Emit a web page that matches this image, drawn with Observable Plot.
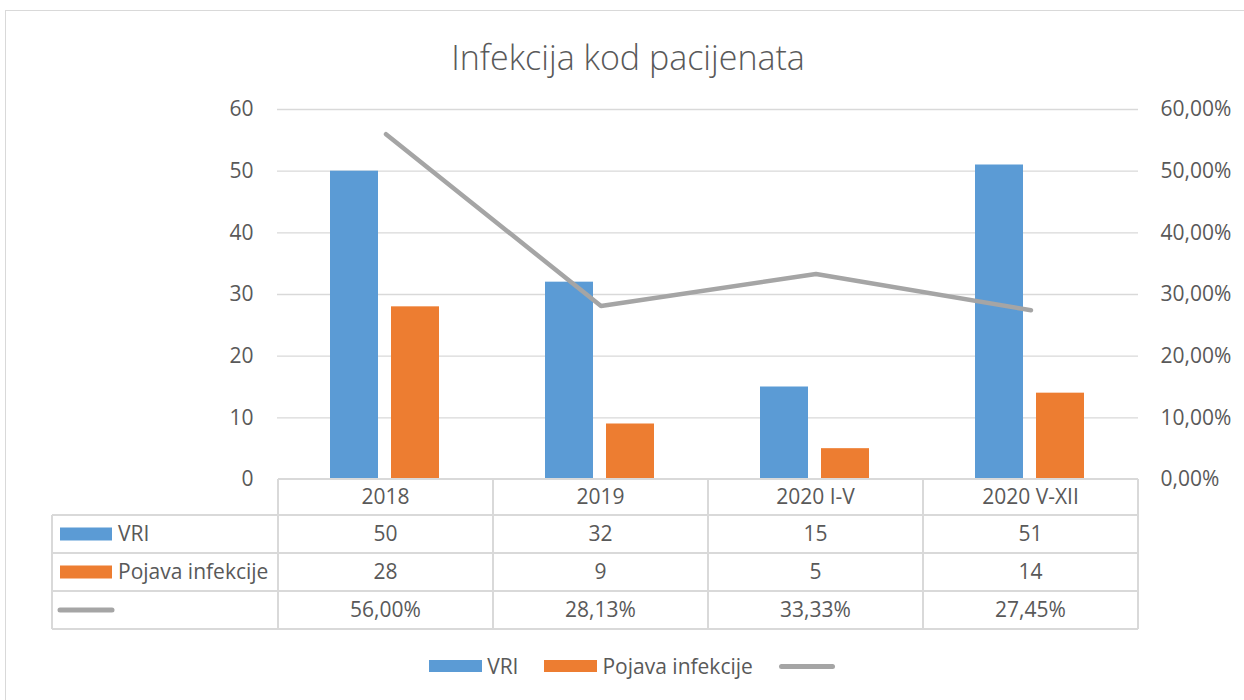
<!DOCTYPE html>
<html>
<head>
<meta charset="utf-8">
<script src="https://cdn.jsdelivr.net/npm/d3@7"></script>
<script src="https://cdn.jsdelivr.net/npm/@observablehq/plot@0.6"></script>
<style>
  body { margin: 0; background: #fff; font-family: "Open Sans", sans-serif; color: #595959; }
  #frame { position: absolute; left: 5px; top: 10px; width: 1250px; height: 700px; border: 1px solid #d9d9d9; box-sizing: border-box; }
  #title { position: absolute; left: 5px; top: 36px; width: 1246px; text-align: center; font-size: 34px; line-height: 42px; color: #595959; font-weight: 300; }
  #chart { position: absolute; left: 0; top: 90px; }
  #legend { position: absolute; left: 5px; top: 646px; width: 1254px; height: 40px; display: flex; justify-content: center; align-items: center; font-size: 21px; color: #595959; }
  .item { display: flex; align-items: center; margin-right: 26px; }
  .sw { width: 53px; height: 12px; margin-right: 5px; }
  .ln { width: 56px; height: 5px; border-radius: 3px; }
</style>
</head>
<body>
<div id="frame"></div>
<div id="title">Infekcija kod pacijenata</div>
<div id="chart"></div>
<div id="legend"></div>
<script>
const categories = ["2018", "2019", "2020 I-V", "2020 V-XII"];
const vri = [50, 32, 15, 51];
const pojava = [28, 9, 5, 14];
const udio = [56.00, 28.13, 33.33, 27.45];
const yTicks = [0, 10, 20, 30, 40, 50, 60];
const seriesNames = ["VRI", "Pojava infekcije", ""];
const colors = ["#5b9bd5", "#ed7d31", "#a5a5a5"];

const FONT = "'Open Sans', sans-serif";
const FS = 21;
const data = categories.map((c, i) => ({cat: c, vri: vri[i], poj: pojava[i], pct: udio[i]}));
const pctFmt = d => d.toFixed(2).replace(".", ",") + "%";

const chart = Plot.plot({
  width: 1244,
  height: 550,
  marginTop: 19,
  marginBottom: 161,
  marginLeft: 277,
  marginRight: 106,
  style: {fontFamily: FONT, fontSize: FS + "px", color: "#595959", background: "transparent"},
  x: {domain: categories, padding: 0, axis: null},
  y: {domain: [0, 60], axis: null},
  marks: [
    Plot.ruleY(yTicks.filter(d => d > 0), {stroke: "#d9d9d9", strokeWidth: 1.3}),
    Plot.axisY({ticks: yTicks, anchor: "left", tickSize: 0, tickPadding: 24, label: null, fontSize: FS}),
    Plot.axisY({ticks: yTicks, anchor: "right", tickSize: 0, tickPadding: 22, label: null, fontSize: FS, tickFormat: pctFmt}),
    Plot.barY(data, {x: "cat", y: "vri", fill: colors[0], insetLeft: 52, insetRight: 115}),
    Plot.barY(data, {x: "cat", y: "poj", fill: colors[1], insetLeft: 113, insetRight: 54}),
    Plot.line(data, {x: "cat", y: "pct", stroke: colors[2], strokeWidth: 4.5, strokeLinecap: "round", strokeLinejoin: "round"})
  ]
});
document.getElementById("chart").appendChild(chart);

// Data table under the plot, positioned from Plot's own scales
const xs = chart.scale("x");
const ys = chart.scale("y");
const bw = xs.bandwidth;
const y0 = ys.apply(0);
const rowEdges = [y0, y0 + 36, y0 + 74, y0 + 112, y0 + 150];
const tableLeft = 52;
const colLeft = xs.apply(categories[0]);
const colRight = xs.apply(categories[categories.length - 1]) + bw;
const svg = d3.select(chart);
const g = svg.append("g").attr("stroke", "#d9d9d9").attr("stroke-width", 2);
rowEdges.forEach((y, i) => {
  g.append("line").attr("x1", i === 0 ? colLeft : tableLeft).attr("x2", colRight).attr("y1", y).attr("y2", y);
});
g.append("line").attr("x1", tableLeft).attr("x2", tableLeft).attr("y1", rowEdges[1]).attr("y2", rowEdges[4]);
categories.forEach(c => {
  g.append("line").attr("x1", xs.apply(c)).attr("x2", xs.apply(c)).attr("y1", rowEdges[0]).attr("y2", rowEdges[4]);
});
g.append("line").attr("x1", colRight).attr("x2", colRight).attr("y1", rowEdges[0]).attr("y2", rowEdges[4]);

const t = svg.append("g").attr("fill", "#595959").attr("font-size", FS).attr("font-family", FONT).attr("text-anchor", "middle");
const rows = [categories, vri.map(String), pojava.map(String), udio.map(pctFmt)];
rows.forEach((vals, r) => {
  const yc = (rowEdges[r] + rowEdges[r + 1]) / 2;
  vals.forEach((v, i) => {
    t.append("text").attr("x", xs.apply(categories[i]) + bw / 2).attr("y", yc).attr("dy", "0.35em").text(v);
  });
});
// Row headers
[0, 1].forEach(k => {
  const yc = (rowEdges[k + 1] + rowEdges[k + 2]) / 2;
  svg.append("rect").attr("x", 60).attr("y", yc - 6.5).attr("width", 52).attr("height", 13).attr("fill", colors[k]);
  svg.append("text").attr("x", 118).attr("y", yc).attr("dy", "0.35em").attr("fill", "#595959")
    .attr("text-anchor", "start").attr("font-size", FS).attr("font-family", FONT).text(seriesNames[k]);
});
{
  const yc = (rowEdges[3] + rowEdges[4]) / 2;
  svg.append("line").attr("x1", 60).attr("x2", 112).attr("y1", yc).attr("y2", yc)
    .attr("stroke", colors[2]).attr("stroke-width", 5).attr("stroke-linecap", "round");
}

// Legend
const legend = d3.select("#legend");
[0, 1].forEach(k => {
  const it = legend.append("div").attr("class", "item");
  it.append("div").attr("class", "sw").style("background", colors[k]);
  it.append("span").text(seriesNames[k]);
});
legend.append("div").attr("class", "item").style("margin-right", "0").append("div").attr("class", "ln").style("background", colors[2]);
</script>
</body>
</html>
